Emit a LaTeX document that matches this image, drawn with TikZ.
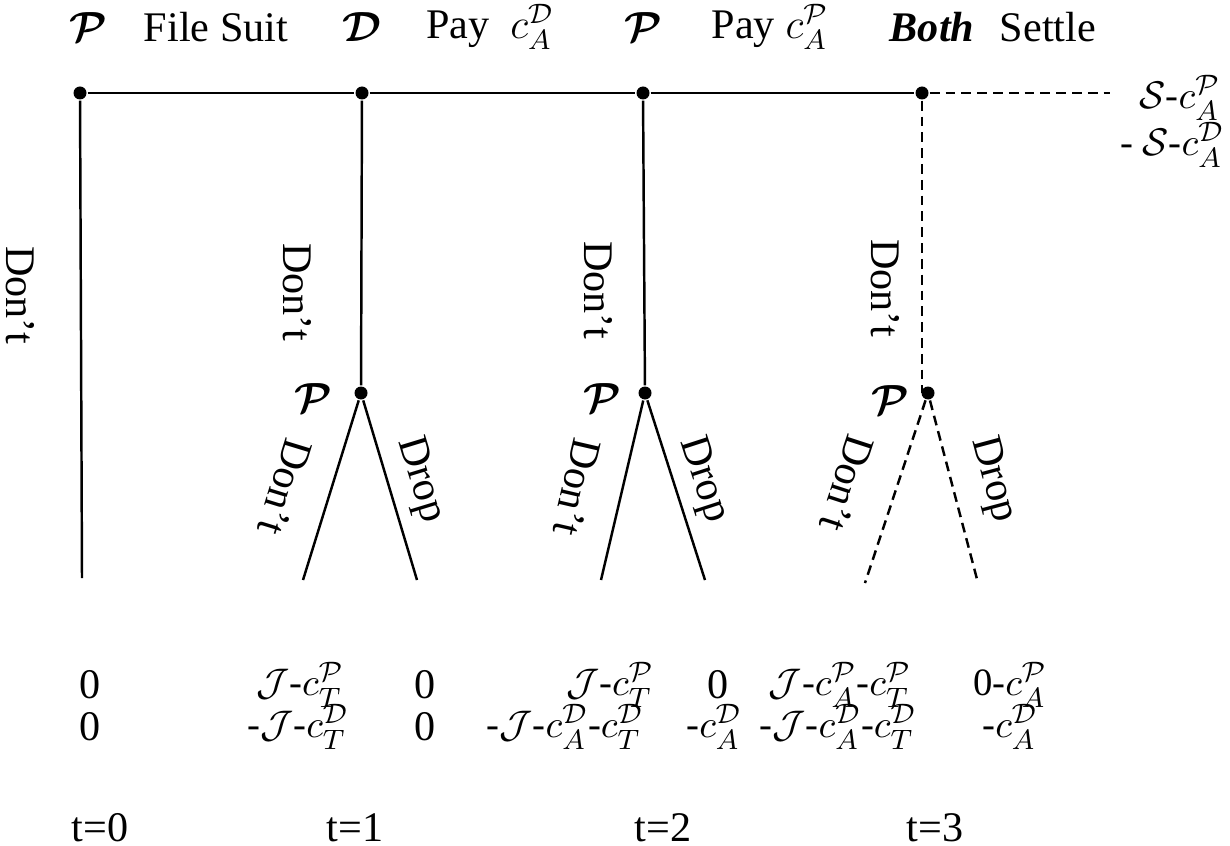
\documentclass[tikz,border=0pt]{standalone}
\usepackage{fontspec}
\setmainfont{Liberation Serif}
\usepackage{amsmath}
\usetikzlibrary{calc}
\tikzset{
  dot/.style={circle, fill, inner sep=0pt, minimum size=0.13cm},
  offpath/.style={dash pattern=on 2.8pt off 1.7pt},
  txt/.style={font=\fontsize{12}{14}\selectfont, inner sep=0pt},
  pay/.style={font=\fontsize{11}{13}\selectfont, inner sep=0pt},
}
\newcommand{\mover}[1]{$\boldsymbol{\mathcal{#1}}$}

\begin{document}
\begin{tikzpicture}[line width=0.7pt]
            \useasboundingbox (0,0) rectangle (12.3,-8.46);
            % decision points
            \node[dot] (p0) at (0.80,-0.93) {};
            \node[dot] (d1) at (3.62,-0.93) {};
            \node[dot] (p2) at (6.43,-0.93) {};
            \node[dot] (b3) at (9.22,-0.93) {};
            \coordinate (set) at (11.10,-0.93);
            \node[dot] (q1) at (3.61,-3.93) {};
            \node[dot] (q2) at (6.45,-3.93) {};
            \node[dot] (q3) at (9.28,-3.93) {};
            \coordinate (e0) at (0.82,-5.78);
            \coordinate (k1) at (3.03,-5.80);
            \coordinate (r1) at (4.17,-5.80);
            \coordinate (k2) at (6.01,-5.80);
            \coordinate (r2) at (7.05,-5.80);
            \coordinate (k3) at (8.65,-5.83);
            \coordinate (r3) at (9.78,-5.83);
            % top line
            \draw (p0) -- (d1) -- (p2) -- (b3);
            \draw[offpath] (b3) -- (set);
            \draw (p0) -- (e0);
            \draw (d1) -- (q1);
            \draw (p2) -- (q2);
            \draw[offpath] (b3) -- (b3 |- q3);
            \draw (q1) -- (k1);
            \draw (q1) -- (r1);
            \draw (q2) -- (k2);
            \draw (q2) -- (r2);
            \draw[offpath] (q3) -- (k3);
            \draw[offpath] (q3) -- (r3);
            % movers and moves
            \node[txt] (m0) at (0.88,-0.27) {\mover{P}};
            \node[txt] (a0) at (2.16,-0.27) {File Suit};
            \node[txt] (m1) at (3.62,-0.27) {\mover{D}};
            \node[txt] (a1) at (4.90,-0.27) {Pay~ $c_A^{\mathcal{D}}$};
            \node[txt] (m2) at (6.43,-0.27) {\mover{P}};
            \node[txt] (a2) at (7.70,-0.27) {Pay $c_A^{\mathcal{P}}$};
            \node[txt] (m3) at (9.32,-0.27) {\textbf{\textit{Both}}};
            \node[txt] (a3) at (10.48,-0.27) {Settle};
            \node[pay] (s1) at (11.80,-0.98) {$\mathcal{S}$-$c_A^{\mathcal{P}}$};
            \node[pay] (s2) at (11.72,-1.45) {- $\mathcal{S}$-$c_A^{\mathcal{D}}$};
            \node[txt, rotate=-90] (n0) at (0.20,-2.95) {Don’t};
            \node[txt, rotate=-90] (n1) at (2.97,-2.92) {Don’t};
            \node[txt, rotate=-90] (n2) at (5.98,-2.90) {Don’t};
            \node[txt, rotate=-90] (n3) at (8.85,-2.88) {Don’t};
            \node[txt] (w1) at (3.13,-3.98) {\mover{P}};
            \node[txt] (w2) at (6.02,-3.98) {\mover{P}};
            \node[txt] (w3) at (8.90,-4.00) {\mover{P}};
            \node[txt, rotate=-107] (x1) at (2.85,-4.87) {Don’t};
            \node[txt, rotate=-73] (y1) at (4.20,-4.80) {Drop};
            \node[txt, rotate=-103] (x2) at (5.77,-4.87) {Don’t};
            \node[txt, rotate=-72] (y2) at (7.03,-4.80) {Drop};
            \node[txt, rotate=-108] (x3) at (8.47,-4.83) {Don’t};
            \node[txt, rotate=-75] (y3) at (9.93,-4.80) {Drop};
            % payoffs
            \node[txt] (u0) at (0.90,-6.85) {0};
            \node[txt] (v0) at (0.90,-7.27) {0};
            \node[pay] (u1) at (3.00,-6.85) {$\mathcal{J}$-$c_T^{\mathcal{P}}$};
            \node[pay] (v1) at (2.98,-7.27) {-$\mathcal{J}$-$c_T^{\mathcal{D}}$};
            \node[txt] (u1d) at (4.25,-6.85) {0};
            \node[txt] (v1d) at (4.25,-7.27) {0};
            \node[pay] (u2) at (6.10,-6.85) {$\mathcal{J}$-$c_T^{\mathcal{P}}$};
            \node[pay] (v2) at (5.65,-7.27) {-$\mathcal{J}$-$c_A^{\mathcal{D}}$-$c_T^{\mathcal{D}}$};
            \node[txt] (u2d) at (7.18,-6.85) {0};
            \node[pay] (v2d) at (7.14,-7.27) {-$c_A^{\mathcal{D}}$};
            \node[pay] (u3) at (8.40,-6.85) {$\mathcal{J}$-$c_A^{\mathcal{P}}$-$c_T^{\mathcal{P}}$};
            \node[pay] (v3) at (8.38,-7.27) {-$\mathcal{J}$-$c_A^{\mathcal{D}}$-$c_T^{\mathcal{D}}$};
            \node[pay] (u3d) at (10.10,-6.85) {0-$c_A^{\mathcal{P}}$};
            \node[pay] (v3d) at (10.10,-7.27) {-$c_A^{\mathcal{D}}$};
            % time
            \node[txt] (t0) at (1.00,-8.28) {t=0};
            \node[txt] (t1) at (3.55,-8.28) {t=1};
            \node[txt] (t2) at (6.63,-8.28) {t=2};
            \node[txt] (t3) at (9.35,-8.28) {t=3};
        \end{tikzpicture}
\end{document}
